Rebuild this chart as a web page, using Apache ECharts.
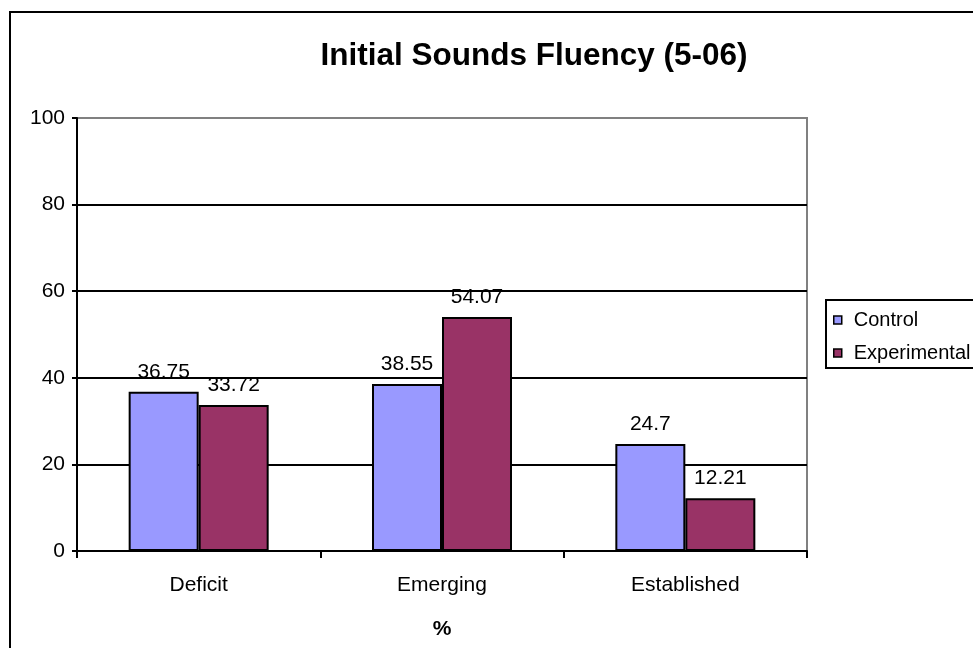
<!DOCTYPE html>
<html>
<head>
<meta charset="utf-8">
<script src="https://cdn.jsdelivr.net/npm/echarts@6/dist/echarts.min.js"></script>
<style>
  html, body { margin: 0; padding: 0; background: #fff; }
  #chart { width: 973px; height: 648px; }
</style>
</head>
<body>
<div id="chart"></div>
<script>
// Initial Sounds Fluency results, percentage of students per level
const categories = ['Deficit', 'Emerging', 'Established'];
const controlValues = [36.75, 38.55, 24.7];
const experimentalValues = [33.72, 54.07, 12.21];
const seriesNames = ['Control', 'Experimental'];
const titleText = 'Initial Sounds Fluency (5-06)';
const xAxisTitle = '%';

const FONT = '"Liberation Sans", Arial, sans-serif';
const TEXT_SIZE = 21;

const chart = echarts.init(document.getElementById('chart'), null, { renderer: 'canvas' });

const labelStyle = {
  show: true,
  position: 'top',
  distance: 9,
  color: '#000',
  fontFamily: FONT,
  fontSize: TEXT_SIZE
};

chart.setOption({
  animation: false,
  backgroundColor: '#fff',
  title: {
    text: titleText,
    left: 529,
    top: 35,
    textAlign: 'center',
    textStyle: { fontFamily: FONT, fontWeight: 'bold', fontSize: 31.5, color: '#000' }
  },
  graphic: [
    {
      type: 'rect',
      shape: { x: 10, y: 12, width: 1000, height: 700 },
      style: { fill: 'none', stroke: '#000', lineWidth: 2 },
      z: -1
    }
  ],
  legend: {
    orient: 'vertical',
    left: 826,
    top: 300,
    padding: [10, 40, 5, 7],
    itemGap: 13,
    itemWidth: 8,
    itemHeight: 8,
    icon: 'rect',
    borderColor: '#000',
    borderWidth: 2,
    itemStyle: { borderColor: '#000', borderWidth: 1.5 },
    textStyle: { fontFamily: FONT, fontSize: 20, color: '#000', padding: [0, 0, 0, 7] },
    data: seriesNames
  },
  grid: {
    left: 77,
    right: 166,
    top: 118,
    bottom: 97,
    show: true,
    borderColor: '#808080',
    borderWidth: 2,
    containLabel: false
  },
  xAxis: {
    type: 'category',
    data: categories,
    name: xAxisTitle,
    nameLocation: 'middle',
    nameGap: 68,
    nameTextStyle: { fontFamily: FONT, fontWeight: 'bold', fontSize: TEXT_SIZE, color: '#000' },
    axisLine: { show: true, lineStyle: { color: '#000', width: 2 } },
    axisTick: { show: true, length: 7, lineStyle: { color: '#000', width: 2 } },
    axisLabel: { fontFamily: FONT, fontSize: TEXT_SIZE, color: '#000', margin: 24 },
    splitLine: { show: false }
  },
  yAxis: {
    type: 'value',
    min: 0,
    max: 100,
    interval: 20,
    axisLine: { show: true, lineStyle: { color: '#000', width: 2 } },
    axisTick: { show: true, length: 5, lineStyle: { color: '#000', width: 2 } },
    axisLabel: { fontFamily: FONT, fontSize: TEXT_SIZE, color: '#000', margin: 12 },
    splitLine: {
      show: true,
      lineStyle: { color: ['#000', '#000', '#000', '#000', '#000', '#808080'], width: 2 }
    }
  },
  series: [
    {
      name: seriesNames[0],
      type: 'bar',
      data: controlValues,
      barWidth: 70,
      barGap: '0%',
      itemStyle: { color: '#9999FF', borderColor: '#000', borderWidth: 2 },
      label: labelStyle
    },
    {
      name: seriesNames[1],
      type: 'bar',
      data: experimentalValues,
      barWidth: 70,
      barGap: '0%',
      itemStyle: { color: '#993366', borderColor: '#000', borderWidth: 2 },
      label: labelStyle
    }
  ]
});
</script>
</body>
</html>
